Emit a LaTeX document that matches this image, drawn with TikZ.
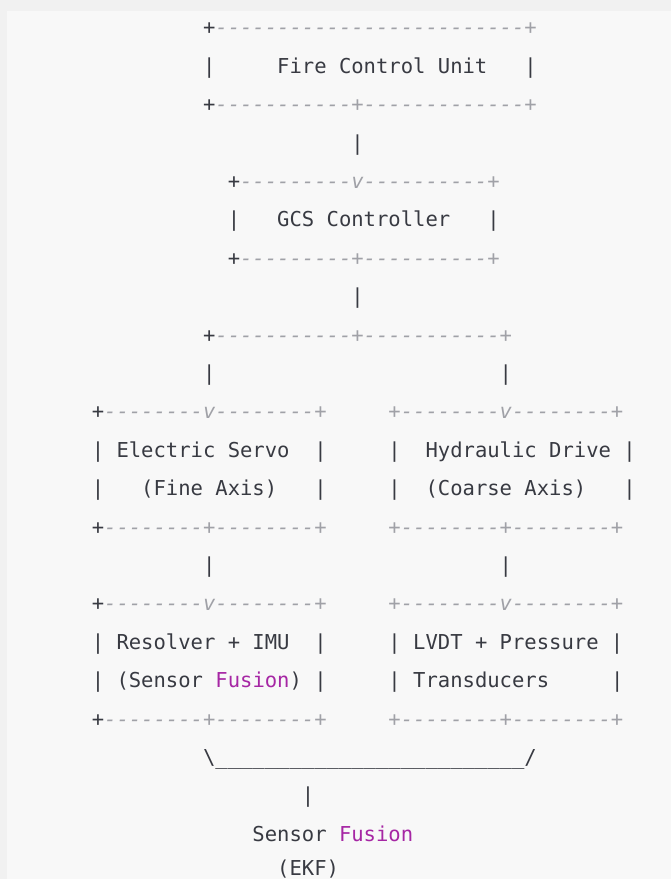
\documentclass[tikz,border=0pt]{standalone}
\usepackage{fontspec}
\newfontfamily\monofam{DejaVu Sans Mono}[Ligatures=TeXOff]
\definecolor{txtc}{HTML}{383A42}
\definecolor{cmt}{HTML}{A0A1A7}
\definecolor{kw}{HTML}{A626A4}
\definecolor{outerbg}{HTML}{F1F1F1}
\definecolor{innerbg}{HTML}{F8F8F8}
\ExplSyntaxOn
\NewDocumentCommand\Dsh{m}{\prg_replicate:nn{#1}{-}}
\NewDocumentCommand\Spc{m}{\prg_replicate:nn{#1}{\nobreakspace}}
\NewDocumentCommand\Und{m}{\prg_replicate:nn{#1}{\_}}
\ExplSyntaxOff
\newcommand\Cm[1]{{\color{cmt}\itshape #1}}
\newcommand\Kw[1]{{\color{kw}#1}}
\def\xo{91.8}
\def\cw{12.36}
\def\bo{73.3}
\def\lp{38.4}
\tikzset{
  txt/.style={anchor=base west, inner sep=0pt, outer sep=0pt,
    font=\monofam\fontsize{15.4}{18}\selectfont, text=txtc}
}
\newcommand\Ln[4]{\node[txt] (#1) at ({\xo+#3*\cw},{\bo+(#2-2)*\lp}) {#4};}
\begin{document}
\begin{tikzpicture}[x=0.75pt,y=-0.75pt]
\useasboundingbox (0,0) rectangle (671,879);
\clip (0,0) rectangle (671,879);
\fill[outerbg] (0,0) rectangle (671,879);
\fill[innerbg] (7,11) rectangle (671,879);
\Ln{l1}{1}{9}{+\Cm{\Dsh{25}+}}
\Ln{l2}{2}{9}{|\Spc{5}Fire Control Unit\Spc{3}|}
\Ln{l3}{3}{9}{+\Cm{\Dsh{11}+\Dsh{13}+}}
\Ln{l4}{4}{21}{|}
\Ln{l5}{5}{11}{+\Cm{\Dsh{9}v\Dsh{10}+}}
\Ln{l6}{6}{11}{|\Spc{3}GCS Controller\Spc{3}|}
\Ln{l7}{7}{11}{+\Cm{\Dsh{9}+\Dsh{10}+}}
\Ln{l8}{8}{21}{|}
\Ln{l9}{9}{9}{+\Cm{\Dsh{11}+\Dsh{11}+}}
\Ln{l10a}{10}{9}{|}
\Ln{l10b}{10}{33}{|}
\Ln{l11}{11}{0}{+\Cm{\Dsh{8}v\Dsh{8}+\Spc{5}+\Dsh{8}v\Dsh{8}+}}
\Ln{l12}{12}{0}{| Electric Servo\Spc{2}|\Spc{5}|\Spc{2}Hydraulic Drive |}
\Ln{l13}{13}{0}{|\Spc{3}(Fine Axis)\Spc{3}|\Spc{5}|\Spc{2}(Coarse Axis)\Spc{3}|}
\Ln{l14}{14}{0}{+\Cm{\Dsh{8}+\Dsh{8}+\Spc{5}+\Dsh{8}+\Dsh{8}+}}
\Ln{l15a}{15}{9}{|}
\Ln{l15b}{15}{33}{|}
\Ln{l16}{16}{0}{+\Cm{\Dsh{8}v\Dsh{8}+\Spc{5}+\Dsh{8}v\Dsh{8}+}}
\Ln{l17}{17}{0}{| Resolver + IMU\Spc{2}|\Spc{5}| LVDT + Pressure |}
\Ln{l18}{18}{0}{| (Sensor \Kw{Fusion}) |\Spc{5}| Transducers\Spc{5}|}
\Ln{l19}{19}{0}{+\Cm{\Dsh{8}+\Dsh{8}+\Spc{5}+\Dsh{8}+\Dsh{8}+}}
\Ln{l20}{20}{9}{\textbackslash\Und{25}/}
\Ln{l21}{21}{17}{|}
\Ln{l22}{22}{13}{Sensor \Kw{Fusion}}
\Ln{l23}{22.88}{15}{(EKF)}
\end{tikzpicture}
\end{document}
